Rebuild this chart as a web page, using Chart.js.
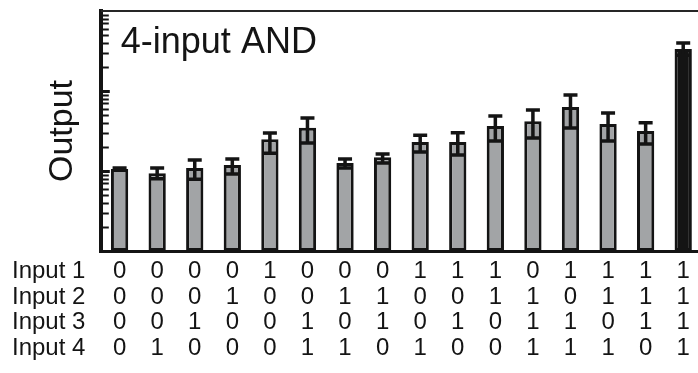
<!DOCTYPE html>
<html>
<head>
<meta charset="utf-8">
<script src="https://cdn.jsdelivr.net/npm/chart.js@4.4.1/dist/chart.umd.min.js"></script>
<style>
html, body { margin:0; padding:0; background:#fff; overflow:hidden; }
#wrap { width:704px; height:373px; }
</style>
</head>
<body>
<div id="wrap"><canvas id="grafico"></canvas></div>
<script>
// -------- DATA

const input1 = [0,0,0,0,1,0,0,0,1,1,1,0,1,1,1,1];
const input2 = [0,0,0,1,0,0,1,1,0,0,1,1,0,1,1,1];
const input3 = [0,0,1,0,0,1,0,1,0,1,0,1,1,0,1,1];
const input4 = [0,1,0,0,0,1,1,0,1,0,0,1,1,1,0,1];
const rowNames = ["Input 1","Input 2","Input 3","Input 4"];

const output  = [10.6, 9.4, 10.9, 11.9, 25, 34.6, 12.6, 14.9, 23, 23, 36.5, 42, 63, 38.7, 31.6, 335];
const errHigh = [10.9, 10.9, 13.7, 14.1, 29.9, 46, 14.1, 16.3, 28, 30, 48.7, 57.7, 89, 53, 40, 398];
const errLow  = [10.3, 8.0, 7.9, 9.2, 16.7, 22.4, 10.9, 12.6, 17.3, 15.8, 23.7, 25.9, 34.4, 23.7, 21.7, 280];

const title = "4-input AND";
const yTitle = "Output";

// tick labels: one column of the truth table per bar
const labels = input1.map((v,i) => [String(v), String(input2[i]), String(input3[i]), String(input4[i])]);

const FONT = "'Liberation Sans', Arial, Helvetica, sans-serif";
const GRAY = "#a2a4a6";
const INK = "#141414";
const LINE_H = 25.5;

// -------- PLUGIN: error bars, log ticks inside, frame, texts

const extras = {
  id: "extras",
  afterDatasetsDraw(chart){
    const ctx = chart.ctx;
    const x = chart.scales.x;
    const y = chart.scales.y;
    const area = chart.chartArea;

    ctx.save();
    ctx.strokeStyle = INK;
    ctx.lineWidth = 3.5;
    output.forEach((v,i) => {
      const px = x.getPixelForValue(i);
      const yh = y.getPixelForValue(errHigh[i]);
      const yl = y.getPixelForValue(errLow[i]);
      ctx.beginPath();
      ctx.moveTo(px, yh); ctx.lineTo(px, yl);
      ctx.moveTo(px-7, yh); ctx.lineTo(px+7, yh);
      ctx.moveTo(px-7, yl); ctx.lineTo(px+7, yl);
      ctx.stroke();
    });

    // log tick marks, pointing into the plot
    for(let d = 1; d < 1000; d *= 10){
      for(let m = 1; m < 10; m++){
        const val = d*m;
        if(val <= 1) continue;
        const py = Math.round(y.getPixelForValue(val)) + 0.5;
        ctx.lineWidth = m === 1 ? 3 : 2;
        ctx.beginPath();
        ctx.moveTo(area.left, py);
        ctx.lineTo(area.left + (m === 1 ? 9 : 8), py);
        ctx.stroke();
      }
    }

    // top frame line
    ctx.strokeStyle = "#262626";
    ctx.lineWidth = 2;
    ctx.beginPath();
    ctx.moveTo(area.left, area.top);
    ctx.lineTo(chart.width, area.top);
    ctx.stroke();

    // title inside the plot
    ctx.fillStyle = INK;
    ctx.font = "36px " + FONT;
    ctx.textAlign = "left";
    ctx.textBaseline = "alphabetic";
    ctx.fillText(title, area.left + 20, area.top + 42);

    // row names of the truth table
    ctx.font = "24px " + FONT;
    ctx.textBaseline = "middle";
    rowNames.forEach((t,r) => {
      ctx.fillText(t, 12, x.top + 8 + LINE_H*(r+0.5));
    });
    ctx.restore();
  }
};

// -------- CHART

new Chart(
document.getElementById("grafico"),
{
type:"bar",
data:{
labels: labels,
datasets:[{
label: yTitle,
data: output,
backgroundColor: output.map((_,i) => i === output.length-1 ? INK : GRAY),
borderColor: INK,
borderWidth: 3,
borderSkipped: false,
barPercentage: 0.46,
categoryPercentage: 1
}]
},
options:{
responsive: true,
maintainAspectRatio: false,
animation: false,
events: [],
layout:{ padding:{ top:11, right:2, left:0, bottom:4 } },
plugins:{ legend:{ display:false }, tooltip:{ enabled:false } },
scales:{
x:{
grid:{ display:false, drawTicks:false },
border:{ display:true, color:INK, width:3 },
ticks:{
autoSkip:false, maxRotation:0, padding:8,
color:INK,
font:{ family:FONT, size:24, lineHeight: LINE_H + "px" }
}
},
y:{
type:"logarithmic",
min:1, max:1000,
grid:{ display:false, drawTicks:false },
border:{ display:true, color:INK, width:4 },
ticks:{ display:false },
title:{
display:true, text:yTitle, color:INK,
font:{ family:FONT, size:34 },
padding:{ top:42, bottom:18 }
}
}
}
},
plugins:[extras]
}
);
</script>
</body>
</html>
